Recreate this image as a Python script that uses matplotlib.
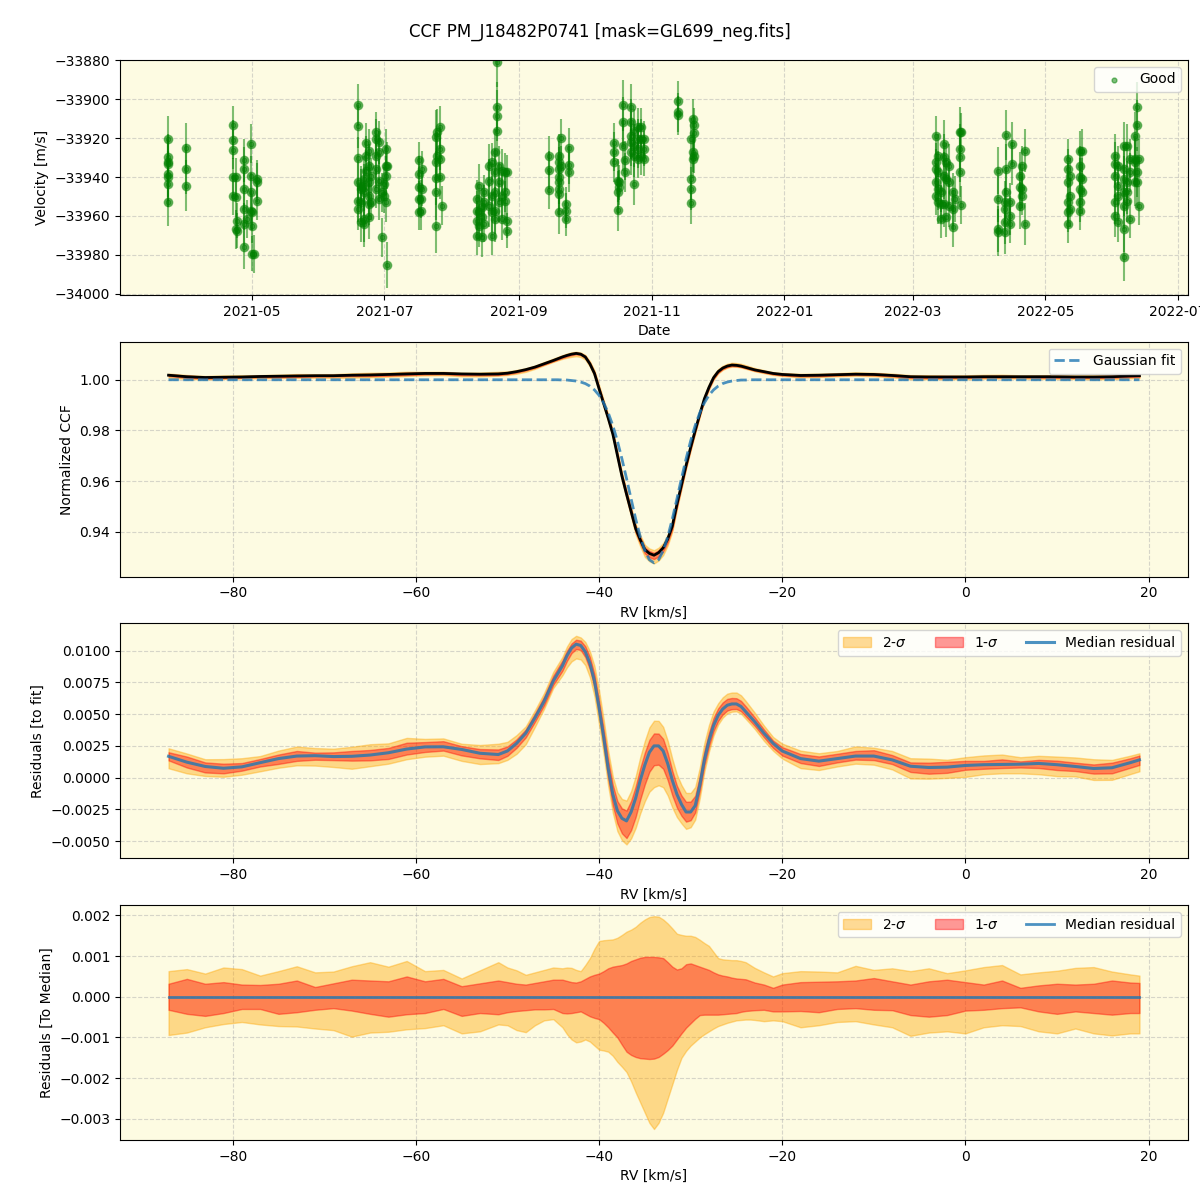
import numpy as np
import matplotlib
matplotlib.use("Agg")
import matplotlib.pyplot as plt
import matplotlib.dates as mdates

# --- RV time series: epochs in days since 2021-01-01, RVs [m/s] per epoch ---
epoch_day = [
    81.6, 89.6,
    111.5, 112.6, 113.4, 116.5, 117.7, 119.5, 120.3, 121.1, 122.6,
    168.9, 170.2, 171.7, 172.5, 173.7, 174.8, 177.1, 178.3, 180.1, 180.9, 181.7, 182.4,
    197.0, 197.8, 198.5, 204.7, 205.4, 206.5, 207.3,
    223.8, 224.6, 225.9, 226.9, 229.2, 230.7, 232.0, 233.0, 233.8, 235.3, 236.6, 237.4,
    256.8, 261.1, 262.2, 264.5, 266.0,
    286.8, 288.3, 289.1, 290.9, 291.8, 294.4, 296.0, 297.5, 299.0, 300.6,
    315.9,
    322.1, 322.8, 323.6,
    434.5, 435.6, 437.1, 438.3, 439.4, 440.9, 442.5, 443.3, 445.6, 446.3,
    463.2, 466.3, 467.0, 468.6, 469.8, 473.2, 474.4, 475.5,
    495.4, 496.5, 500.8, 502.0,
    516.9, 518.4, 521.0, 522.6, 523.8, 526.1, 527.3, 528.1,
]
epoch_rv = [
    [-33920.4, -33929.8, -33932.4, -33933.2, -33938.4, -33940.1, -33943.6, -33953.0],
    [-33925.0, -33935.8, -33944.4],
    [-33913.5, -33920.9, -33926.0, -33940.1, -33949.6],
    [-33940.1, -33950.4, -33966.8],
    [-33962.5, -33967.6],
    [-33931.5, -33935.8, -33946.1, -33956.5, -33964.2, -33976.2],
    [-33961.6],
    [-33922.9, -33939.3, -33947.9, -33957.3],
    [-33958.2, -33965.0, -33979.6],
    [-33979.6],
    [-33941.0, -33942.7, -33952.2],
    [-33902.9, -33914.0, -33930.2, -33942.7, -33952.2, -33956.5],
    [-33944.4, -33946.1, -33953.0, -33963.3],
    [-33941.0, -33945.3, -33947.9, -33961.6, -33964.2],
    [-33922.4, -33929.0, -33936.7],
    [-33926.4, -33934.1, -33942.7, -33949.6, -33953.9, -33960.8],
    [-33939.3, -33953.0],
    [-33916.6, -33920.4, -33929.0, -33935.8, -33946.1],
    [-33922.1, -33927.2, -33941.9, -33951.3],
    [-33947.9, -33971.1],
    [-33943.6, -33949.6],
    [-33925.5, -33934.1, -33939.3, -33953.0],
    [-33934.1, -33985.3],
    [-33931.2, -33938.4, -33945.3, -33951.3, -33958.2],
    [-33951.3, -33957.3],
    [-33935.8, -33946.1],
    [-33919.5, -33932.4, -33940.6, -33947.9, -33965.0],
    [-33916.9, -33929.0],
    [-33914.4, -33925.5, -33930.7, -33940.1],
    [-33954.7],
    [-33951.3, -33957.3, -33962.5, -33970.2],
    [-33944.4, -33958.2, -33965.0],
    [-33955.6, -33960.8, -33971.1],
    [-33947.9, -33953.0, -33964.2],
    [-33934.1, -33941.9, -33954.7],
    [-33932.4, -33949.6, -33958.2, -33970.2],
    [-33927.2, -33937.5, -33947.9, -33957.3, -33961.6],
    [-33880.9, -33904.1, -33908.4, -33916.1],
    [-33934.1, -33942.7, -33953.0],
    [-33936.7, -33949.6, -33961.6],
    [-33937.5, -33947.9, -33952.2],
    [-33937.5, -33962.5, -33967.6],
    [-33929.0, -33936.4, -33946.6],
    [-33929.0, -33932.4, -33935.8, -33940.1, -33942.7, -33946.1, -33948.7, -33958.2],
    [-33920.0, -33934.1],
    [-33953.9, -33957.3, -33961.6],
    [-33925.0, -33933.8, -33937.5],
    [-33922.4, -33926.9, -33932.4],
    [-33941.9, -33947.9, -33956.8],
    [-33942.7, -33945.3],
    [-33903.2, -33911.8, -33923.8],
    [-33931.5, -33937.5],
    [-33904.1, -33911.8, -33918.7, -33922.1, -33927.2],
    [-33916.1, -33923.8, -33929.0, -33943.6],
    [-33914.4, -33920.4, -33925.5, -33930.7],
    [-33914.4, -33920.4, -33929.0],
    [-33920.4, -33925.5, -33930.7],
    [-33900.8, -33906.8, -33908.2],
    [-33920.4, -33941.0, -33946.1, -33953.3],
    [-33910.0, -33927.2, -33930.7],
    [-33913.5, -33917.5, -33929.0],
    [-33918.7, -33932.4, -33935.8, -33942.7, -33949.6],
    [-33929.0, -33937.5, -33946.1, -33953.0],
    [-33947.9, -33953.9, -33961.6],
    [-33922.9, -33929.8, -33939.3, -33953.9],
    [-33932.4, -33941.0, -33960.8],
    [-33934.1, -33942.7, -33954.7],
    [-33947.9, -33956.5, -33965.9],
    [-33951.3],
    [-33916.9, -33925.5, -33929.8, -33937.5],
    [-33916.9, -33954.4],
    [-33936.7, -33951.3, -33966.8, -33968.5],
    [-33953.0, -33956.5, -33963.3, -33968.5],
    [-33918.3, -33935.8, -33947.9],
    [-33953.0, -33959.9, -33964.2],
    [-33922.9, -33933.2],
    [-33939.3, -33945.3, -33954.7],
    [-33934.1, -33946.1, -33949.6],
    [-33926.4, -33964.2],
    [-33930.7, -33935.8, -33942.7, -33953.0, -33958.2, -33964.2],
    [-33939.3, -33949.6, -33956.5],
    [-33926.4, -33934.1, -33940.1, -33946.1, -33953.0, -33957.3],
    [-33926.4, -33941.0, -33947.9],
    [-33929.0, -33933.2, -33939.3, -33953.0, -33959.9],
    [-33934.1, -33944.4, -33949.6, -33963.3],
    [-33923.8, -33935.8, -33941.0, -33947.9, -33954.7, -33966.8, -33981.4],
    [-33923.8, -33942.7, -33947.9, -33952.2],
    [-33930.7, -33937.5, -33961.6],
    [-33918.7, -33930.7, -33932.4, -33942.7],
    [-33904.1, -33913.5, -33937.5, -33942.7],
    [-33930.7, -33954.7],
]
epoch_err = [
    12, 13,
    10, 10, 9, 11, 10, 10, 9, 10, 10,
    11, 10, 12, 10, 11, 9, 10, 11, 10, 9, 10, 12,
    9, 10, 9, 14, 12, 11, 10,
    10, 11, 10, 9, 11, 10, 12, 13, 10, 11, 10, 9,
    10, 11, 10, 9, 10,
    10, 11, 9, 13, 10, 12, 11, 10, 10, 9,
    10,
    11, 10, 9,
    10, 11, 10, 12, 10, 11, 10, 12, 13, 10,
    12, 11, 13, 10, 11, 12, 10, 11,
    10, 9, 10, 11,
    11, 10, 12, 11, 10, 12, 13, 10,
]

# --- CCF profiles (RV grid in km/s) ---
rv = [-87, -85, -83, -81, -79, -77, -75, -73, -71, -69, -67, -65, -63, -61, -59, -57, -55, -53, -51,
      -50, -49, -48, -47, -46,
      -45, -44.5, -44, -43.5, -43, -42.5, -42, -41.5, -41, -40.5, -40, -39.5, -39, -38.5, -38,
      -37.5, -37, -36.5, -36, -35.5, -35, -34.5, -34, -33.5, -33, -32.5, -32, -31.5, -31, -30.5,
      -30, -29.5, -29, -28.5, -28, -27.5, -27, -26.5, -26, -25.5, -25, -24.5, -24, -23.5, -23,
      -22, -21, -20,
      -18, -16, -14, -12, -10, -8, -6, -4, -2, 0, 2, 4, 6, 8, 10, 12, 14, 16, 18, 19]

ccf_median = [1.0018, 1.0012, 1.0009, 1.0010, 1.0011, 1.0013, 1.0014, 1.0015, 1.0016, 1.0016,
              1.0018, 1.0019, 1.0021, 1.0023, 1.0025, 1.0025, 1.0023, 1.0022, 1.0023,
              1.0026, 1.0032, 1.0040, 1.0050, 1.0063,
              1.0076, 1.0083, 1.0090, 1.0096, 1.0101, 1.0104, 1.0101, 1.0090, 1.0063, 1.0025,
              0.9965, 0.9907, 0.9849, 0.9787, 0.9703, 0.9620, 0.9549, 0.9481, 0.9413, 0.9369,
              0.9330, 0.9315, 0.9308, 0.9318, 0.9337, 0.9372, 0.9423, 0.9508, 0.9585, 0.9662,
              0.9733, 0.9800, 0.9864, 0.9925, 0.9970, 1.0008, 1.0032, 1.0046, 1.0054, 1.0058,
              1.0057, 1.0054, 1.0049, 1.0044, 1.0039,
              1.0032, 1.0025, 1.0021,
              1.0017, 1.0018, 1.0020, 1.0022, 1.0021, 1.0017, 1.0012, 1.0011, 1.0011, 1.0011,
              1.0012, 1.0012, 1.0012, 1.0012, 1.0012, 1.0011, 1.0011, 1.0012, 1.0015, 1.0016]

gauss_fit = [1.0] * 24 + [
    1.0000, 1.0000, 0.9999, 0.9999, 0.9997, 0.9995, 0.9991, 0.9985, 0.9975, 0.9960,
    0.9939, 0.9909, 0.9870, 0.9820, 0.9759, 0.9688, 0.9611, 0.9530, 0.9451, 0.9381,
    0.9326, 0.9290, 0.9278, 0.9290, 0.9326, 0.9381, 0.9451, 0.9530, 0.9611, 0.9688,
    0.9759, 0.9820, 0.9870, 0.9909, 0.9939, 0.9960, 0.9975, 0.9985, 0.9991, 0.9995,
    0.9997, 0.9999, 0.9999, 1.0000, 1.0000] + [1.0] * 23

resid_median = [0.00168, 0.00122, 0.00088, 0.00074, 0.00085, 0.00118, 0.00150, 0.00170, 0.00173,
                0.00166, 0.00168, 0.00178, 0.00196, 0.00225, 0.00242, 0.00243, 0.00222, 0.00192,
                0.00182,
                0.0021, 0.0027, 0.0035, 0.0047, 0.0060,
                0.0076, 0.0082, 0.0088, 0.0096, 0.0102, 0.0105, 0.0104, 0.0099, 0.0090, 0.0076,
                0.0055, 0.0032, 0.0007, -0.0013, -0.0026, -0.0032, -0.0034, -0.0027, -0.0016,
                -0.0002, 0.0010, 0.0020, 0.0025, 0.0025, 0.0021, 0.0011, -0.0002, -0.0013,
                -0.0021, -0.0027, -0.0027, -0.0022, -0.0006, 0.0014, 0.0029, 0.0041, 0.0049,
                0.0054, 0.0057, 0.0058, 0.0058, 0.0056, 0.0052, 0.0048, 0.0044,
                0.0035, 0.0027, 0.0021,
                0.0015, 0.0013, 0.0015, 0.0017, 0.0017, 0.0014, 0.0009, 0.0008, 0.00083, 0.00096,
                0.00102, 0.00104, 0.00106, 0.00112, 0.00102, 0.00088, 0.00072, 0.00078, 0.00118,
                0.0014]

# spread of the individual profiles around the median (percentile bands)
sig2_hi = [0.00063, 0.00068, 0.00057, 0.00072, 0.00068, 0.00052, 0.00063, 0.00075, 0.00060,
           0.00062, 0.00075, 0.00085, 0.00074, 0.00088, 0.00063, 0.00066, 0.00045, 0.00065,
           0.00085,
           0.00072, 0.00065, 0.00054, 0.00060, 0.00066,
           0.00072, 0.00071, 0.00070, 0.00072, 0.00071, 0.00066, 0.00063, 0.00078, 0.00095,
           0.00118, 0.00137, 0.00139, 0.00140, 0.00141, 0.00145, 0.00152, 0.00160, 0.00165,
           0.00172, 0.00182, 0.00190, 0.00196, 0.00198, 0.00197, 0.00190, 0.00180, 0.00168,
           0.00155, 0.00152, 0.00150, 0.00150, 0.00147, 0.00140, 0.00132, 0.00125, 0.00110,
           0.00095, 0.00092, 0.00091, 0.00090, 0.00090, 0.00088, 0.00085, 0.00078, 0.00071,
           0.00060, 0.00050, 0.00058,
           0.00063, 0.00062, 0.00060, 0.00076, 0.00066, 0.00070, 0.00063, 0.00070, 0.00058,
           0.00065, 0.00073, 0.00078, 0.00055, 0.00060, 0.00064, 0.00071, 0.00073, 0.00062,
           0.00055, 0.00052]
sig1_hi = [0.00032, 0.00044, 0.00032, 0.00036, 0.00030, 0.00029, 0.00032, 0.00040, 0.00024,
           0.00033, 0.00042, 0.00040, 0.00038, 0.00050, 0.00038, 0.00044, 0.00026, 0.00033,
           0.00040,
           0.00036, 0.00032, 0.00030, 0.00034, 0.00038,
           0.00042, 0.00042, 0.00042, 0.00039, 0.00036, 0.00035, 0.00038, 0.00044, 0.00050,
           0.00054, 0.00057, 0.00063, 0.00070, 0.00074, 0.00076, 0.00078, 0.00082, 0.00088,
           0.00092, 0.00096, 0.00098, 0.00098, 0.00098, 0.00097, 0.00095, 0.00085, 0.00074,
           0.00067, 0.00070, 0.00080, 0.00082, 0.00078, 0.00074, 0.00070, 0.00066, 0.00060,
           0.00055, 0.00052, 0.00050, 0.00047, 0.00045, 0.00044, 0.00043, 0.00039, 0.00035,
           0.00030, 0.00022, 0.00030,
           0.00036, 0.00037, 0.00038, 0.00040, 0.00046, 0.00038, 0.00030, 0.00038, 0.00042,
           0.00036, 0.00030, 0.00040, 0.00022, 0.00028, 0.00032, 0.00030, 0.00032, 0.00040,
           0.00035, 0.00034]
sig1_lo = [-0.00032, -0.00042, -0.00047, -0.00040, -0.00030, -0.00030, -0.00042, -0.00038,
           -0.00032, -0.00028, -0.00034, -0.00042, -0.00049, -0.00043, -0.00040, -0.00030,
           -0.00047, -0.00040, -0.00043,
           -0.00038, -0.00035, -0.00033, -0.00031, -0.00031,
           -0.00030, -0.00035, -0.00040, -0.00041, -0.00040, -0.00038, -0.00036, -0.00042,
           -0.00048, -0.00052, -0.00055, -0.00064, -0.00075, -0.00088, -0.00100, -0.00118,
           -0.00135, -0.00143, -0.00148, -0.00151, -0.00152, -0.00153, -0.00152, -0.00148,
           -0.00140, -0.00131, -0.00120, -0.00105, -0.00090, -0.00076, -0.00065, -0.00054,
           -0.00045, -0.00044, -0.00044, -0.00044, -0.00044, -0.00043, -0.00042, -0.00041,
           -0.00040, -0.00037, -0.00035, -0.00034, -0.00033,
           -0.00032, -0.00036, -0.00036,
           -0.00035, -0.00038, -0.00030, -0.00028, -0.00032, -0.00033, -0.00045, -0.00049,
           -0.00045, -0.00034, -0.00032, -0.00028, -0.00026, -0.00036, -0.00042, -0.00036,
           -0.00040, -0.00044, -0.00040, -0.00040]
sig2_lo = [-0.00094, -0.00088, -0.00075, -0.00067, -0.00062, -0.00068, -0.00072, -0.00073,
           -0.00078, -0.00082, -0.00098, -0.00088, -0.00086, -0.00080, -0.00077, -0.00070,
           -0.00090, -0.00085, -0.00068,
           -0.00070, -0.00082, -0.00087, -0.00070, -0.00058,
           -0.00055, -0.00065, -0.00075, -0.00092, -0.00105, -0.00112, -0.00110, -0.00105,
           -0.00110, -0.00120, -0.00130, -0.00132, -0.00135, -0.00145, -0.00160, -0.00172,
           -0.00185, -0.00208, -0.00235, -0.00260, -0.00285, -0.00310, -0.00325, -0.00310,
           -0.00285, -0.00250, -0.00215, -0.00180, -0.00150, -0.00133, -0.00120, -0.00110,
           -0.00100, -0.00092, -0.00085, -0.00078, -0.00072, -0.00068, -0.00064, -0.00061,
           -0.00058, -0.00057, -0.00056, -0.00056, -0.00057,
           -0.00060, -0.00058, -0.00060,
           -0.00075, -0.00070, -0.00062, -0.00060, -0.00068, -0.00075, -0.00096, -0.00088,
           -0.00085, -0.00090, -0.00075, -0.00070, -0.00072, -0.00085, -0.00090, -0.00078,
           -0.00090, -0.00095, -0.00090, -0.00090]

BG = '#fdfbe2'

rv = np.array(rv)
ccf = np.array(ccf_median)
res = np.array(resid_median)
s2h, s1h = np.array(sig2_hi), np.array(sig1_hi)
s1l, s2l = np.array(sig1_lo), np.array(sig2_lo)

t0 = mdates.date2num(np.datetime64('2021-01-01'))
t = np.concatenate([[t0 + d] * len(vv) for d, vv in zip(epoch_day, epoch_rv)])
vel = np.concatenate(epoch_rv)
err = np.concatenate([[e] * len(vv) for e, vv in zip(epoch_err, epoch_rv)])

fig, axs = plt.subplots(4, 1, figsize=(12, 12), dpi=100)
fig.subplots_adjust(left=0.1, right=0.99, top=0.95, bottom=0.05, hspace=0.2)
fig.suptitle('CCF PM_J18482P0741 [mask=GL699_neg.fits]', fontsize=12, y=0.981)

for ax in axs:
    ax.set_facecolor(BG)
    ax.grid(True, linestyle='--', alpha=0.5)
    ax.set_axisbelow(True)

# a) velocities
ax = axs[0]
ax.errorbar(t, vel, yerr=err, fmt='o', color='green', ms=6, elinewidth=1.5, alpha=0.5)
ax.scatter(t, vel, s=12, color='green', alpha=0.5, label='Good')
ax.xaxis_date()
ax.xaxis.set_major_locator(mdates.MonthLocator(bymonth=[1, 3, 5, 7, 9, 11]))
ax.xaxis.set_major_formatter(mdates.DateFormatter('%Y-%m'))
ax.set_xlim(t0 + 59.4, t0 + 550.6)
ax.set_ylim(-34000.6, -33879.8)
ax.ticklabel_format(axis='y', useOffset=False)
ax.set_xlabel('Date')
ax.set_ylabel('Velocity [m/s]')
ax.legend(loc='upper right')

# b) CCF with fit
ax = axs[1]
ax.fill_between(rv, ccf + s2l, ccf + s2h, color='orange', alpha=0.4, lw=1)
ax.fill_between(rv, ccf + s1l, ccf + s1h, color='red', alpha=0.4, lw=1)
ax.plot(rv, ccf, color='black', lw=2)
ax.plot(rv, gauss_fit, '--', color='C0', lw=2, alpha=0.8, label='Gaussian fit')
ax.set_xlabel('RV [km/s]')
ax.set_ylabel('Normalized CCF')
ax.set_ylim(0.9224, 1.0150)
ax.legend(loc='upper right')

# c) residuals to fit
ax = axs[2]
ax.fill_between(rv, res + s2l, res + s2h, color='orange', alpha=0.4, lw=1, label='2-$\\sigma$')
ax.fill_between(rv, res + s1l, res + s1h, color='red', alpha=0.4, lw=1, label='1-$\\sigma$')
ax.plot(rv, res, color='C0', lw=2.2, alpha=0.8, label='Median residual')
ax.set_xlabel('RV [km/s]')
ax.set_ylabel('Residuals [to fit]')
ax.set_ylim(-0.00634, 0.01213)
ax.legend(loc='upper right', ncol=3)

# d) residuals to median
ax = axs[3]
ax.fill_between(rv, s2l, s2h, color='orange', alpha=0.4, lw=1, label='2-$\\sigma$')
ax.fill_between(rv, s1l, s1h, color='red', alpha=0.4, lw=1, label='1-$\\sigma$')
ax.plot(rv, np.zeros_like(rv, dtype=float), color='C0', lw=2, alpha=0.8, label='Median residual')
ax.set_xlabel('RV [km/s]')
ax.set_ylabel('Residuals [To Median]')
ax.set_ylim(-0.00352, 0.00225)
ax.legend(loc='upper right', ncol=3)

for ax in axs[1:]:
    ax.set_xlim(-92.3, 24.3)

fig.savefig('out.png', dpi=100)
